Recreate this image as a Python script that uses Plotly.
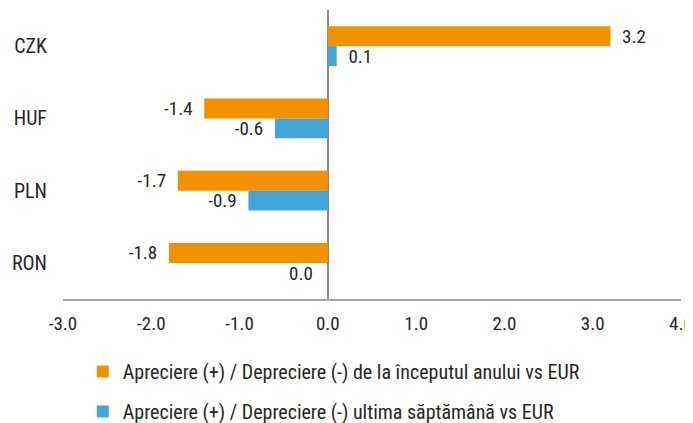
import plotly.graph_objects as go

categories = ["CZK", "HUF", "PLN", "RON"]
ytd_values = [3.2, -1.4, -1.7, -1.8]
week_values = [0.1, -0.6, -0.9, 0.0]
series_names = [
    "Apreciere (+) / Depreciere (-) de la începutul anului vs EUR",
    "Apreciere (+) / Depreciere (-) ultima săptămână vs EUR",
]
x_ticks = [-3.0, -2.0, -1.0, 0.0, 1.0, 2.0, 3.0, 4.0]
x_tick_labels = ["-3.0", "-2.0", "-1.0", "0.0", "1.0", "2.0", "3.0", "4.0"]

FONT = "Liberation Sans Narrow, Arial Narrow, Roboto Condensed, Liberation Sans, sans-serif"
TXT = "#262626"
orange = "#F39200"
blue = "#42A5D8"
NB = "\u00a0\u00a0"


def lab(v):
    if v > 0:
        return NB + f"{v:.1f}"
    if v < 0:
        return f"{v:.1f}" + NB
    return ""


fig = go.Figure()
for name, vals, col, grp in [(series_names[0], ytd_values, orange, "a"),
                             (series_names[1], week_values, blue, "b")]:
    fig.add_trace(go.Bar(
        y=categories, x=vals, orientation="h", name=name,
        marker=dict(color=col, line=dict(width=0)),
        text=[lab(v) for v in vals], textposition="outside",
        constraintext="none",
        textfont=dict(family=FONT, size=19, color=TXT),
        cliponaxis=False, legendgroup=grp,
    ))

# labels for zero-valued bars (plotly would draw them on the right)
for vals, shift in [(ytd_values, 10), (week_values, -11)]:
    for c, v in zip(categories, vals):
        if v == 0:
            fig.add_annotation(x=v, y=c, text=f"{v:.1f}", showarrow=False,
                               xanchor="right", xshift=-13, yshift=shift,
                               font=dict(family=FONT, size=19, color=TXT))

# the page body has an 8px margin, so the figure is 8px smaller and offset
fig.update_layout(
    width=685, height=415,
    margin=dict(l=55, r=12, t=2, b=124, autoexpand=False),
    paper_bgcolor="white", plot_bgcolor="white",
    barmode="group", bargap=0.45, bargroupgap=0,
    font=dict(family=FONT, size=19, color=TXT),
    showlegend=True,
    legend=dict(orientation="v", x=0.032, y=-0.183, xanchor="left", yanchor="top",
                tracegroupgap=11, traceorder="grouped",
                font=dict(family=FONT, size=20, color=TXT),
                itemwidth=30, bgcolor="rgba(0,0,0,0)"),
    xaxis=dict(range=[-3, 4], tickvals=x_ticks, ticktext=x_tick_labels,
               showgrid=False, zeroline=True, zerolinecolor="#8C8C8C", zerolinewidth=2,
               showline=True, linecolor="#A6A6A6", linewidth=2,
               ticks="", ticklabelstandoff=6, automargin=False,
               tickfont=dict(family=FONT, size=19, color=TXT),
               fixedrange=True),
    yaxis=dict(autorange="reversed", showgrid=False, zeroline=False, showline=False,
               ticks="", ticklabelstandoff=15, automargin=False,
               tickfont=dict(family=FONT, size=20, color=TXT)),
)

fig.write_html("out.html")
